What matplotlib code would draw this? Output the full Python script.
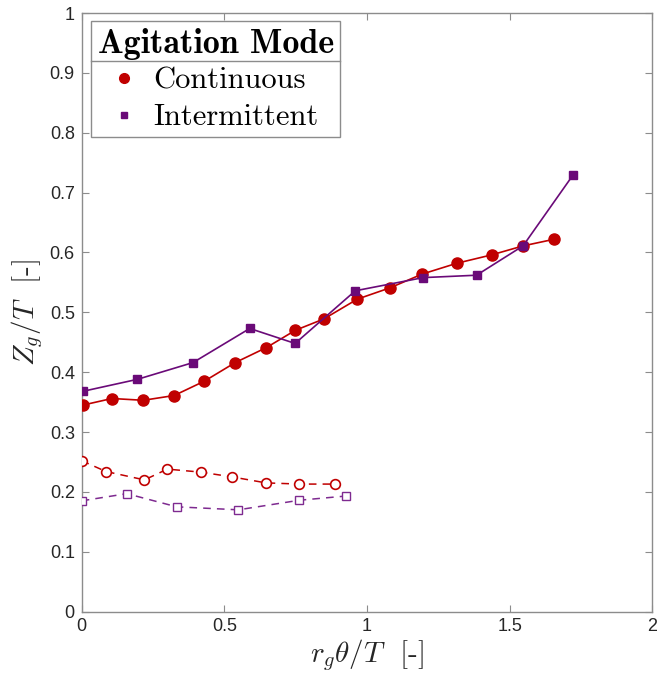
import matplotlib
matplotlib.use("Agg")
import matplotlib.pyplot as plt
from matplotlib.lines import Line2D

plt.rcParams["mathtext.fontset"] = "cm"

# Filled markers: continuous agitation
cont_x = [0.004, 0.106, 0.216, 0.324, 0.430, 0.538, 0.647, 0.749, 0.849, 0.966,
          1.081, 1.194, 1.315, 1.437, 1.547, 1.655]
cont_y = [0.345, 0.356, 0.353, 0.361, 0.385, 0.416, 0.441, 0.470, 0.489, 0.522,
          0.541, 0.564, 0.582, 0.596, 0.611, 0.622]

# Filled markers: intermittent agitation
inter_x = [0.004, 0.195, 0.390, 0.589, 0.748, 0.959, 1.197, 1.384, 1.547, 1.723]
inter_y = [0.368, 0.388, 0.416, 0.473, 0.448, 0.536, 0.558, 0.562, 0.611, 0.730]

# Open markers (dashed): continuous agitation
cont_open_x = [0.0, 0.085, 0.220, 0.300, 0.417, 0.527, 0.646, 0.763, 0.887]
cont_open_y = [0.252, 0.234, 0.220, 0.238, 0.233, 0.225, 0.215, 0.213, 0.213]

# Open markers (dashed): intermittent agitation
inter_open_x = [0.0, 0.158, 0.333, 0.549, 0.763, 0.926]
inter_open_y = [0.185, 0.197, 0.175, 0.170, 0.186, 0.193]

x_ticks = [0, 0.5, 1, 1.5, 2]
x_tick_labels = ["0", "0.5", "1", "1.5", "2"]
y_ticks = [0, 0.1, 0.2, 0.3, 0.4, 0.5, 0.6, 0.7, 0.8, 0.9, 1]
y_tick_labels = ["0", "0.1", "0.2", "0.3", "0.4", "0.5", "0.6", "0.7", "0.8", "0.9", "1"]

red = "#C00000"
purple = "#6A0A78"
purple_open = "#7E2A90"
grey = "#8C8C8C"

fig = plt.figure(figsize=(6.57, 6.75), dpi=100)
ax = fig.add_axes([0.1244, 0.094, 0.8684, 0.8866])

ax.plot(cont_x, cont_y, color=red, lw=1.2, marker="o", ms=8, mfc=red, mec=red, zorder=3)
ax.plot(inter_x, inter_y, color=purple, lw=1.2, marker="s", ms=5.5, mfc=purple, mec=purple, zorder=4)
ax.plot(cont_open_x, cont_open_y, color=red, lw=1.1, ls=(0, (5, 4)), marker="o", ms=7,
        mfc="white", mec=red, mew=1.2, zorder=3)
ax.plot(inter_open_x, inter_open_y, color=purple_open, lw=1.1, ls=(0, (5, 4)), marker="s", ms=6,
        mfc="white", mec=purple_open, mew=1.0, zorder=3)

ax.set_xlim(0, 2)
ax.set_ylim(0, 1)
ax.set_xticks(x_ticks)
ax.set_xticklabels(x_tick_labels, family="Liberation Sans")
ax.set_yticks(y_ticks)
ax.set_yticklabels(y_tick_labels, family="Liberation Sans")
ax.tick_params(direction="in", length=5, width=0.8, color=grey, labelsize=13,
               labelcolor="#262626", top=True, right=True, pad=5)
for sp in ax.spines.values():
    sp.set_color(grey)
    sp.set_linewidth(1.0)

ax.set_xlabel(r"$r_g\theta/T$  [-]", family="cmr10", fontsize=21, labelpad=1, color="#262626")
ax.set_ylabel(r"$Z_g/T$  [-]", family="cmr10", fontsize=21, labelpad=3, color="#262626")

handles = [
    Line2D([], [], ls="none", marker="o", ms=7, color=red),
    Line2D([], [], ls="none", marker="s", ms=5, color=purple),
]
leg = ax.legend(handles, ["Continuous", "Intermittent"], loc="upper left",
                bbox_to_anchor=(0.017, 0.986), frameon=True, fancybox=False,
                edgecolor=grey, framealpha=1, borderpad=0.2, handlelength=0.7,
                handletextpad=0.6, labelspacing=0.3, borderaxespad=0,
                prop={"family": "cmr10", "size": 22},
                title="Agitation Mode",
                title_fontproperties={"family": "cmb10", "size": 24.5})
leg.get_frame().set_linewidth(1.0)
leg._legend_box.sep = 5.5

# Separator line between the legend title and its entries
fig.canvas.draw()
renderer = fig.canvas.get_renderer()
frame_bb = leg.get_frame().get_window_extent(renderer)
title_bb = leg.get_title().get_window_extent(renderer)
sep_y = title_bb.y0 - 1
inv = fig.transFigure.inverted()
(x0, y0) = inv.transform((frame_bb.x0, sep_y))
(x1, _) = inv.transform((frame_bb.x1, sep_y))
fig.add_artist(Line2D([x0, x1], [y0, y0], color=grey, lw=1.0, zorder=10))

fig.savefig("out.png", dpi=100)
